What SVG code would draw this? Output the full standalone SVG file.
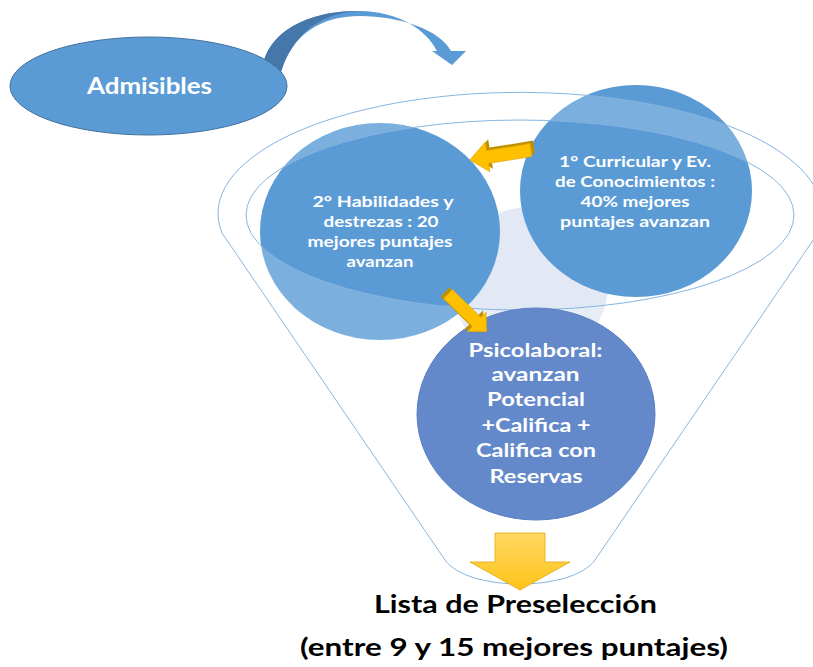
<svg xmlns="http://www.w3.org/2000/svg" width="813" height="667" viewBox="0 0 813 667">
<defs>
<style>
.w{fill:#ffffff;font-family:Lato,"Open Sans","Liberation Sans",sans-serif;font-weight:bold;text-anchor:middle}
.k{fill:#000000;font-family:Lato,"Open Sans","Liberation Sans",sans-serif;font-weight:bold;text-anchor:middle;font-size:25.5px}
.blue{fill:#5b9bd5}
.yf{fill:#ffc000}
.yb{fill:#bf9000}
</style>
<linearGradient id="gy" x1="0" y1="0" x2="0" y2="1">
<stop offset="0" stop-color="#ffd862"/>
<stop offset="1" stop-color="#ffc41a"/>
</linearGradient>
</defs>
<rect width="813" height="667" fill="#ffffff"/>

<g id="curved-arrow">
<path class="blue" d="M 262 70 C 268 25 320 10 360 11 C 398 12 425 28 437 51 L 432 51 L 452 65 L 466 51 L 451 51 C 440 30 400 16 360 16 C 320 16 292 35 281 72 Z"/>
<path fill="#4677ab" d="M 262 70 C 268 25 320 10 360 11 C 335 12 297 22 281 72 Z"/>
</g>

<g id="admisibles">
<ellipse cx="148.5" cy="86" rx="138.5" ry="49" fill="#5b9bd5" stroke="#41719c" stroke-width="1"/>
<text class="w" x="149.5" y="94.3" font-size="22" textLength="125" lengthAdjust="spacingAndGlyphs">Admisibles</text>
</g>

<g id="funnel-inner">
<circle cx="530" cy="285" r="78" fill="#e2e9f4"/>
</g>

<g id="step1">
<ellipse class="blue" cx="636" cy="191" rx="116" ry="106"/>
</g>
<g id="step2">
<ellipse class="blue" cx="380" cy="231.5" rx="120" ry="108.5"/>
</g>

<g id="funnel">
<path d="M 222 233 A 302 121 0 1 1 818 233 L 595 560 C 572 592 468 592 445 560 Z M 246 215 A 274 95 0 1 0 794 215 A 274 95 0 1 0 246 215 Z" fill="#ffffff" fill-opacity="0.2" fill-rule="evenodd" stroke="#86b4e0" stroke-width="1"/>
</g>

<g id="step1-text">
<text class="w" font-size="16" x="635" y="167.3" textLength="152" lengthAdjust="spacingAndGlyphs">1° Curricular y  Ev.</text>
<text class="w" font-size="16" x="635" y="186.7" textLength="160" lengthAdjust="spacingAndGlyphs">de Conocimientos :</text>
<text class="w" font-size="16" x="635" y="206.7" textLength="109" lengthAdjust="spacingAndGlyphs">40% mejores</text>
<text class="w" font-size="16" x="635" y="226.7" textLength="150" lengthAdjust="spacingAndGlyphs">puntajes  avanzan</text>
</g>

<g id="step2-text">
<text class="w" font-size="16" x="383" y="207.3" textLength="141" lengthAdjust="spacingAndGlyphs">2° Habilidades y</text>
<text class="w" font-size="16" x="381" y="226.7" textLength="115" lengthAdjust="spacingAndGlyphs">destrezas : 20</text>
<text class="w" font-size="16" x="380" y="246.7" textLength="145" lengthAdjust="spacingAndGlyphs">mejores puntajes</text>
<text class="w" font-size="16" x="380" y="266.7" textLength="67" lengthAdjust="spacingAndGlyphs">avanzan</text>
</g>

<g id="step3">
<ellipse cx="536" cy="414" rx="119" ry="106" fill="#6389ca" stroke="#5a7fc0" stroke-width="1"/>
<text class="w" font-size="18.5" x="535.5" y="356.7" textLength="134" lengthAdjust="spacingAndGlyphs">Psicolaboral:</text>
<text class="w" font-size="18.5" x="535.5" y="380.7" textLength="88" lengthAdjust="spacingAndGlyphs">avanzan</text>
<text class="w" font-size="18.5" x="536" y="406" textLength="98" lengthAdjust="spacingAndGlyphs">Potencial</text>
<text class="w" font-size="18.5" x="536" y="431.7" textLength="109" lengthAdjust="spacingAndGlyphs">+Califica +</text>
<text class="w" font-size="18.5" x="536" y="456.7" textLength="120" lengthAdjust="spacingAndGlyphs">Califica con</text>
<text class="w" font-size="18.5" x="536" y="482.7" textLength="93" lengthAdjust="spacingAndGlyphs">Reservas</text>
</g>

<g id="connectors">
<polygon class="yb" transform="translate(534,147) rotate(170.8)" points="0,-6.5 44,-6.5 44,-15 62,0 44,15 44,6.5 0,6.5"/>
<polygon class="yf" stroke="#d9a300" stroke-width="0.6" transform="translate(531,150) rotate(170.8)" points="0,-6.5 44,-6.5 44,-15 62,0 44,15 44,6.5 0,6.5"/>
<polygon class="yb" transform="translate(445,292) rotate(44.3)" points="0,-6.3 40,-6.3 40,-13.5 54,0 40,13.5 40,6.3 0,6.3"/>
<polygon class="yf" stroke="#d9a300" stroke-width="0.6" transform="translate(448,294) rotate(44.3)" points="0,-6.3 40,-6.3 40,-13.5 54,0 40,13.5 40,6.3 0,6.3"/>
<polygon fill="url(#gy)" stroke="#e0aa10" stroke-width="0.8" points="495,533 545,533 545,562 570,562 520,590 470,562 495,562"/>
</g>

<g id="result">
<text class="k" x="515.5" y="613.3" textLength="283" lengthAdjust="spacingAndGlyphs">Lista de Preselección</text>
<text class="k" x="514" y="656" textLength="428" lengthAdjust="spacingAndGlyphs">(entre 9 y 15 mejores puntajes)</text>
</g>
</svg>
